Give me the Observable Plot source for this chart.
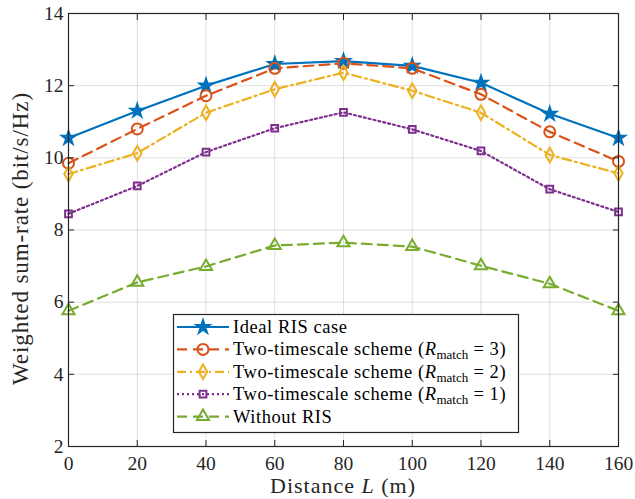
<!DOCTYPE html>
<html>
<head>
<meta charset="utf-8">
<script src="https://cdn.jsdelivr.net/npm/d3@7"></script>
<script src="https://cdn.jsdelivr.net/npm/@observablehq/plot@0.6"></script>
<style>
  html, body { margin: 0; padding: 0; background: #fff; }
  #chart { width: 635px; height: 499px; }
</style>
</head>
<body>
<div id="chart"></div>
<script>
// ---- data ----
const distance = [0, 20, 40, 60, 80, 100, 120, 140, 160];
const idealRIS = [10.55, 11.3, 12.0, 12.6, 12.68, 12.55, 12.08, 11.22, 10.55];
const twoTimescaleR3 = [9.85, 10.8, 11.72, 12.48, 12.62, 12.48, 11.76, 10.72, 9.9];
const twoTimescaleR2 = [9.55, 10.13, 11.25, 11.9, 12.36, 11.86, 11.25, 10.08, 9.57];
const twoTimescaleR1 = [8.45, 9.22, 10.16, 10.82, 11.26, 10.79, 10.19, 9.13, 8.5];
const withoutRIS = [5.76, 6.55, 6.99, 7.57, 7.65, 7.54, 7.01, 6.51, 5.76];

const xTicks = [0, 20, 40, 60, 80, 100, 120, 140, 160];
const yTicks = [2, 4, 6, 8, 10, 12, 14];

const seriesNames = ["Ideal RIS case", "R = 3", "R = 2", "R = 1", "Without RIS"];
const seriesValues = [idealRIS, twoTimescaleR3, twoTimescaleR2, twoTimescaleR1, withoutRIS];

// ---- styles ----
const styles = [
  {color: "#0072BD", dash: "none", symbol: "star", r: 4.1, fill: "#0072BD", sym: d3.symbolStar},
  {color: "#D95319", dash: "10,6", symbol: "circle", r: 5.5, fill: "none", sym: d3.symbolCircle},
  {color: "#EDB120", dash: "9,4,2,4", symbol: "diamond", r: 4.4, fill: "none", sym: d3.symbolDiamond},
  {color: "#7E2F8E", dash: "2,3", symbol: "square", r: 3.8, fill: "none", sym: d3.symbolSquare},
  {color: "#77AC30", dash: "10,6", symbol: "triangle", r: 4.5, fill: "none", sym: d3.symbolTriangle}
];

const rows = seriesNames.flatMap((name, i) =>
  distance.map((d, j) => ({series: name, idx: i, L: d, v: seriesValues[i][j]}))
);

const axisColor = "#262626";
const font = "'Liberation Serif', 'Times New Roman', serif";

const marks = [
  Plot.gridX(xTicks, {stroke: axisColor, strokeOpacity: 0.14, strokeWidth: 1}),
  Plot.gridY(yTicks, {stroke: axisColor, strokeOpacity: 0.14, strokeWidth: 1})
];
seriesNames.forEach((name, i) => {
  const s = styles[i];
  const data = rows.filter(r => r.idx === i);
  marks.push(Plot.line(data, {x: "L", y: "v", stroke: s.color, strokeWidth: 2.2, strokeDasharray: s.dash}));
});
seriesNames.forEach((name, i) => {
  const s = styles[i];
  const data = rows.filter(r => r.idx === i);
  marks.push(Plot.dot(data, {x: "L", y: "v", symbol: () => s.symbol, r: s.r, stroke: s.color, strokeWidth: 2, fill: s.fill}));
});
marks.push(
  Plot.frame({stroke: axisColor, strokeWidth: 1.2}),
  Plot.axisX(xTicks, {anchor: "bottom", tickSize: 0, tickPadding: 10, label: null, fill: axisColor}),
  Plot.axisY(yTicks, {anchor: "left", tickSize: 0, tickPadding: 5, label: null, fill: axisColor}),
  Plot.axisX(xTicks, {anchor: "bottom", tickSize: 6, dy: -6, fill: "none", stroke: axisColor, label: null}),
  Plot.axisX(xTicks, {anchor: "top", tickSize: 6, dy: 6, fill: "none", stroke: axisColor, label: null}),
  Plot.axisY(yTicks, {anchor: "left", tickSize: 6, dx: 6, fill: "none", stroke: axisColor, label: null}),
  Plot.axisY(yTicks, {anchor: "right", tickSize: 6, dx: -6, fill: "none", stroke: axisColor, label: null})
);

const chart = Plot.plot({
  width: 635,
  height: 499,
  marginTop: 13,
  marginRight: 17,
  marginBottom: 53,
  marginLeft: 68,
  x: {domain: [0, 160]},
  y: {domain: [2, 14]},
  style: {fontFamily: font, fontSize: "19.5px", background: "#fff", color: axisColor},
  marks
});

const svg = d3.select(chart);
// axis titles
const xs = chart.scale("x"), ys = chart.scale("y");
const xt = svg.append("text")
  .attr("x", (xs.apply(0) + xs.apply(160)) / 2)
  .attr("y", 493)
  .attr("text-anchor", "middle")
  .attr("fill", axisColor)
  .style("font-family", font).style("font-size", "22px").style("letter-spacing", "1px");
xt.append("tspan").text("Distance ");
xt.append("tspan").attr("font-style", "italic").text("L");
xt.append("tspan").text(" (m)");

svg.append("text")
  .attr("transform", `translate(28, ${(ys.apply(2) + ys.apply(14)) / 2 + 9}) rotate(-90)`)
  .attr("text-anchor", "middle")
  .attr("fill", axisColor)
  .style("font-family", font).style("font-size", "23px").style("letter-spacing", "0.9px")
  .text("Weighted sum-rate (bit/s/Hz)");

// legend
const lg = svg.append("g").attr("text-anchor", "start")
  .style("font-family", font).style("font-size", "18.5px").style("letter-spacing", "0.55px");
const bx = 173, by = 314, bw = 345, bh = 118, rowH = 22.4, row0 = 327;
lg.append("rect").attr("x", bx + 0.5).attr("y", by + 0.5).attr("width", bw).attr("height", bh)
  .attr("fill", "#fff").attr("stroke", axisColor).attr("stroke-width", 1.2);
const legendLabels = [
  {pre: "Ideal RIS case", n: null},
  {pre: "Two-timescale scheme (", n: 3},
  {pre: "Two-timescale scheme (", n: 2},
  {pre: "Two-timescale scheme (", n: 1},
  {pre: "Without RIS", n: null}
];
legendLabels.forEach((lab, i) => {
  const s = styles[i];
  const cy = row0 + i * rowH;
  lg.append("path").attr("d", `M177,${cy}H229`)
    .attr("fill", "none").attr("stroke", s.color).attr("stroke-width", 2.2)
    .attr("stroke-dasharray", s.dash);
  lg.append("path").attr("d", d3.symbol(s.sym, Math.PI * s.r * s.r)())
    .attr("transform", `translate(203,${cy})`)
    .attr("fill", s.fill).attr("stroke", s.color).attr("stroke-width", 2);
  const t = lg.append("text").attr("x", 233).attr("y", cy + 6).attr("fill", "#000")
    .attr("text-anchor", "start");
  t.append("tspan").text(lab.pre);
  if (lab.n !== null) {
    t.append("tspan").attr("font-style", "italic").text("R");
    t.append("tspan").attr("dy", 4).style("font-size", "13px").style("letter-spacing", "0px").text("match");
    t.append("tspan").attr("dy", -4).text(` = ${lab.n})`);
  }
});

document.getElementById("chart").appendChild(chart);
</script>
</body>
</html>
